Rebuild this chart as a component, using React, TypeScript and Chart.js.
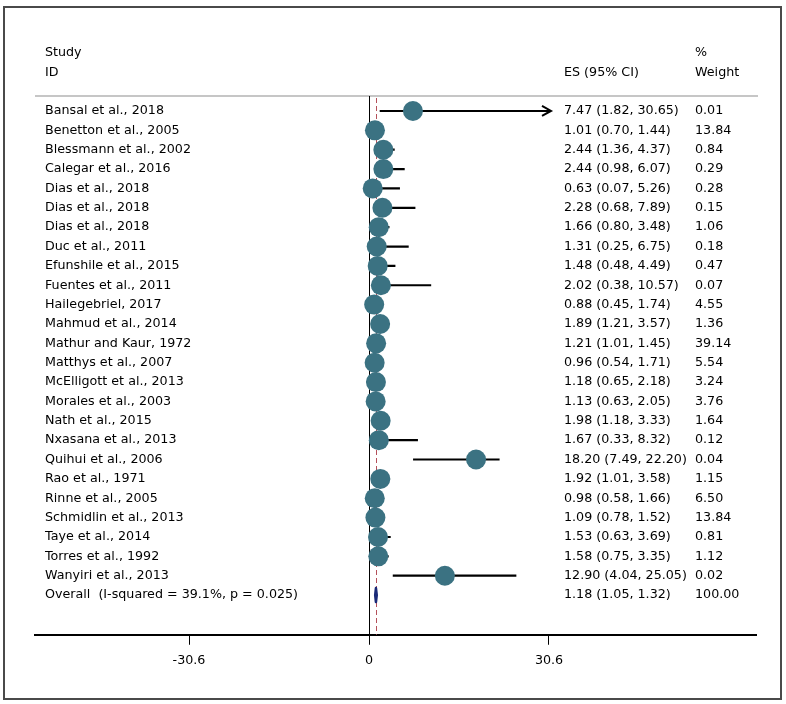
import React, { useEffect, useRef } from "react";
import { Chart, registerables } from "chart.js";

Chart.register(...registerables);

const studies = [
  "Bansal et al., 2018",
  "Benetton et al., 2005",
  "Blessmann et al., 2002",
  "Calegar et al., 2016",
  "Dias et al., 2018",
  "Dias et al., 2018",
  "Dias et al., 2018",
  "Duc et al., 2011",
  "Efunshile et al., 2015",
  "Fuentes et al., 2011",
  "Hailegebriel, 2017",
  "Mahmud et al., 2014",
  "Mathur and Kaur, 1972",
  "Matthys et al., 2007",
  "McElligott et al., 2013",
  "Morales et al., 2003",
  "Nath et al., 2015",
  "Nxasana et al., 2013",
  "Quihui et al., 2006",
  "Rao et al., 1971",
  "Rinne et al., 2005",
  "Schmidlin et al., 2013",
  "Taye et al., 2014",
  "Torres et al., 1992",
  "Wanyiri et al., 2013",
];
const es = [7.47, 1.01, 2.44, 2.44, 0.63, 2.28, 1.66, 1.31, 1.48, 2.02, 0.88, 1.89, 1.21, 0.96, 1.18, 1.13, 1.98, 1.67, 18.2, 1.92, 0.98, 1.09, 1.53, 1.58, 12.9];
const lo = [1.82, 0.7, 1.36, 0.98, 0.07, 0.68, 0.8, 0.25, 0.48, 0.38, 0.45, 1.21, 1.01, 0.54, 0.65, 0.63, 1.18, 0.33, 7.49, 1.01, 0.58, 0.78, 0.63, 0.75, 4.04];
const hi = [30.65, 1.44, 4.37, 6.07, 5.26, 7.89, 3.48, 6.75, 4.49, 10.57, 1.74, 3.57, 1.45, 1.71, 2.18, 2.05, 3.33, 8.32, 22.2, 3.58, 1.66, 1.52, 3.69, 3.35, 25.05];
const weights = ["0.01", "13.84", "0.84", "0.29", "0.28", "0.15", "1.06", "0.18", "0.47", "0.07", "4.55", "1.36", "39.14", "5.54", "3.24", "3.76", "1.64", "0.12", "0.04", "1.15", "6.50", "13.84", "0.81", "1.12", "0.02"];
const overallLabel = "Overall  (I-squared = 39.1%, p = 0.025)";
const overallES = 1.18;
const overallLo = 1.05;
const overallHi = 1.32;
const overallWeight = "100.00";
const xTicks = [-30.6, 0, 30.6];
const xTickLabels = ["-30.6", "0", "30.6"];

const FONT = '12.7px "DejaVu Sans", Verdana, sans-serif';
const TEXT = "#000";
const ciMax = 30.6;

export default function App() {
  const ref = useRef<HTMLCanvasElement | null>(null);

  useEffect(() => {
    const canvas = ref.current;
    if (!canvas) return;
    const overallRow = studies.length;

    const ciDatasets = studies.map((_, i) => ({
      type: "line" as const,
      data: [
        { x: lo[i], y: i },
        { x: Math.min(hi[i], ciMax), y: i },
      ],
      borderColor: "#000",
      borderWidth: 2.2,
      pointRadius: 0,
      order: 2,
    }));

    const backgroundLines = {
      id: "backgroundLines",
      beforeDatasetsDraw(chart: any) {
        const { ctx, chartArea, scales } = chart;
        const xs = scales.x;
        ctx.save();
        ctx.strokeStyle = "#c6c6c6";
        ctx.lineWidth = 2;
        ctx.beginPath();
        ctx.moveTo(chartArea.left, chartArea.top);
        ctx.lineTo(chartArea.right + 2, chartArea.top);
        ctx.stroke();
        const x0 = Math.round(xs.getPixelForValue(0)) + 0.5;
        ctx.strokeStyle = "#000";
        ctx.lineWidth = 1;
        ctx.beginPath();
        ctx.moveTo(x0, chartArea.top);
        ctx.lineTo(x0, chartArea.bottom);
        ctx.stroke();
        const xo = Math.round(xs.getPixelForValue(overallES)) + 0.5;
        ctx.strokeStyle = "#b4505a";
        ctx.setLineDash([5, 3]);
        ctx.beginPath();
        ctx.moveTo(xo, chartArea.top + 2);
        ctx.lineTo(xo, chartArea.bottom);
        ctx.stroke();
        ctx.restore();
      },
    };

    const marks = {
      id: "marks",
      afterDatasetsDraw(chart: any) {
        const { ctx, scales } = chart;
        const xs = scales.x;
        const ys = scales.y;
        ctx.save();
        studies.forEach((_, i) => {
          if (hi[i] > ciMax) {
            const tip = xs.getPixelForValue(ciMax) + 2;
            const y = ys.getPixelForValue(i);
            ctx.strokeStyle = "#000";
            ctx.lineWidth = 2;
            ctx.beginPath();
            ctx.moveTo(tip - 9, y - 5);
            ctx.lineTo(tip, y);
            ctx.lineTo(tip - 9, y + 5);
            ctx.stroke();
          }
        });
        const yo = ys.getPixelForValue(overallRow);
        const xl = xs.getPixelForValue(overallLo);
        const xm = xs.getPixelForValue(overallES);
        const xr = xs.getPixelForValue(overallHi);
        ctx.fillStyle = "#1b2a78";
        ctx.strokeStyle = "#1b2a78";
        ctx.lineWidth = 2.5;
        ctx.lineJoin = "round";
        ctx.beginPath();
        ctx.moveTo(xl, yo);
        ctx.lineTo(xm, yo - 7);
        ctx.lineTo(xr, yo);
        ctx.lineTo(xm, yo + 7);
        ctx.closePath();
        ctx.fill();
        ctx.stroke();
        ctx.restore();
      },
    };

    const texts = {
      id: "texts",
      afterDraw(chart: any) {
        const { ctx, scales } = chart;
        const ys = scales.y;
        ctx.save();
        ctx.font = FONT;
        ctx.fillStyle = TEXT;
        ctx.textBaseline = "middle";
        ctx.textAlign = "left";
        const colStudy = 45;
        const colES = 564;
        const colW = 695;
        ctx.fillText("Study", colStudy, 53);
        ctx.fillText("ID", colStudy, 73);
        ctx.fillText("ES (95% CI)", colES, 73);
        ctx.fillText("%", colW, 53);
        ctx.fillText("Weight", colW, 73);
        studies.forEach((s, i) => {
          const y = ys.getPixelForValue(i);
          ctx.fillText(s, colStudy, y);
          ctx.fillText(`${es[i].toFixed(2)} (${lo[i].toFixed(2)}, ${hi[i].toFixed(2)})`, colES, y);
          ctx.fillText(weights[i], colW, y);
        });
        const yo = ys.getPixelForValue(overallRow);
        ctx.fillText(overallLabel, colStudy, yo);
        ctx.fillText(`${overallES.toFixed(2)} (${overallLo.toFixed(2)}, ${overallHi.toFixed(2)})`, colES, yo);
        ctx.fillText(overallWeight, colW, yo);
        ctx.strokeStyle = "#4a4a4a";
        ctx.lineWidth = 2;
        ctx.strokeRect(4, 7, 777, 692);
        ctx.restore();
      },
    };

    const chart = new Chart(canvas, {
      type: "scatter",
      data: {
        datasets: [
          {
            type: "scatter",
            data: es.map((v, i) => ({ x: v, y: i })),
            backgroundColor: "#3b7282",
            borderWidth: 0,
            pointRadius: 10,
            order: 0,
          } as any,
          ...ciDatasets,
        ],
      },
      options: {
        animation: false,
        responsive: false,
        events: [],
        layout: { padding: { left: 35, right: 30, top: 96, bottom: 28 } },
        plugins: { legend: { display: false }, tooltip: { enabled: false } },
        scales: {
          x: {
            type: "linear",
            min: -56.78,
            max: 65.79,
            afterBuildTicks: (s: any) => {
              s.ticks = xTicks.map((v) => ({ value: v }));
            },
            ticks: {
              autoSkip: false,
              maxRotation: 0,
              padding: 8,
              color: TEXT,
              font: { family: '"DejaVu Sans", Verdana, sans-serif', size: 12.7 },
              callback: (v: any) => {
                const k = xTicks.indexOf(Number(v));
                return k >= 0 ? xTickLabels[k] : "";
              },
            },
            grid: { drawOnChartArea: false, drawTicks: true, tickLength: 10, color: "#000", lineWidth: 1 },
            border: { display: true, color: "#000", width: 2 },
          },
          y: {
            type: "linear",
            min: -0.774,
            max: 27.05,
            reverse: true,
            display: false,
          },
        },
      },
      plugins: [backgroundLines, marks, texts],
    } as any);
    return () => chart.destroy();
  }, []);

  return (
    <div style={{ position: "fixed", left: 0, top: 0, width: 786, height: 704, background: "#fff" }}>
      <canvas ref={ref} width={786} height={704} style={{ display: "block" }} />
    </div>
  );
}
